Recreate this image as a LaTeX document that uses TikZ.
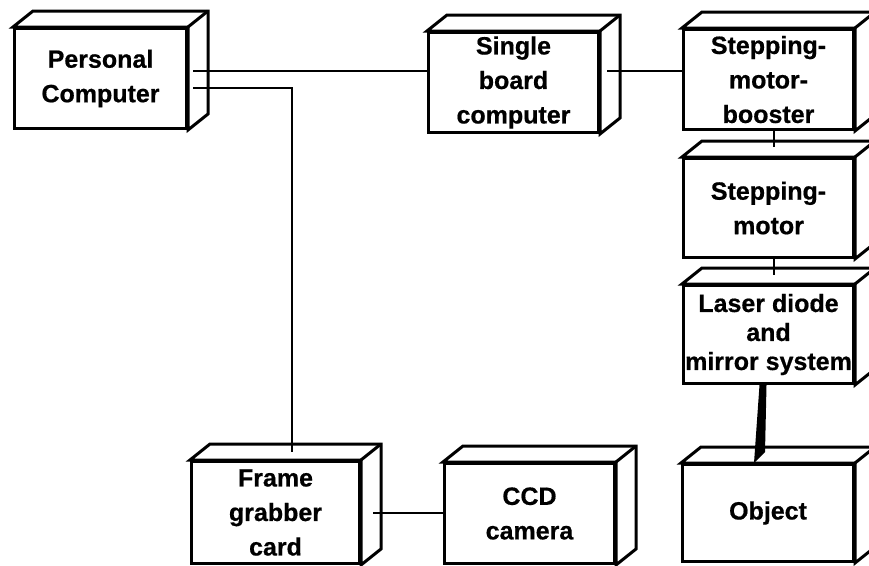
\documentclass[tikz,border=0pt]{standalone}
\usepackage{fontspec}
\newfontfamily\labelfont{Liberation Sans}[FakeBold=0.6]
\usetikzlibrary{calc}

% side and top faces of a box-shaped unit
\newcommand\boxdepth[1]{%
  \draw[unitedge, fill=white]
    (#1.north west) -- ++(20,-16) -| ([shift={(20,-16)}]#1.south east)
    -- (#1.south east) -- (#1.north east) -- cycle;
  \draw[unitedge] (#1.north east) -- ++(20,-16);
}

\begin{document}
\begin{tikzpicture}[x=1pt, y=-1pt,
  unitedge/.style={line width=3pt, line join=miter},
  unit/.style={unitedge, draw, fill=white, inner sep=0pt, anchor=north west,
    align=center, minimum width=170pt, minimum height=100pt,
    font=\labelfont\bfseries\fontsize{25}{34.5}\selectfont},
  link/.style={line width=2.4pt}]

\useasboundingbox[fill=white] (0,0) rectangle (869,565);

% units
\node[unit, minimum width=172pt] (pc) at (13,27) {Personal\\Computer};
\boxdepth{pc}
\node[unit] (sbc) at (427,31) {Single\\board\\computer};
\boxdepth{sbc}
\node[unit] (booster) at (682,28) {Stepping-\\motor-\\booster};
\boxdepth{booster}
\node[unit, minimum height=99pt] (motor) at (682,157) {Stepping-\\motor};
\boxdepth{motor}
\node[unit, minimum height=98pt,
  font=\labelfont\bfseries\fontsize{25}{29}\selectfont] (laser) at (682,284)
  {Laser diode\\and\\mirror system};
\boxdepth{laser}
\node[unit, minimum width=171pt, minimum height=97pt] (object) at (681,463) {Object};
\boxdepth{object}
\node[unit, minimum width=168pt, minimum height=102pt] (frame) at (190,460)
  {Frame\\grabber\\card};
\boxdepth{frame}
\node[unit] (ccd) at (443,462) {CCD\\camera};
\boxdepth{ccd}

% connector ends lying on the side and top faces
\coordinate (pc-a) at (193,71);
\coordinate (pc-b) at (193,88);
\coordinate (frame-in) at (292,452);
\coordinate (sbc-out) at (607,71);
\coordinate (motor-in) at (774,147);
\coordinate (laser-in) at (774,275);
\coordinate (frame-out) at (373,513);

% connectors
\draw[link] (pc-a) -- (sbc.west |- pc-a);
\draw[link] (pc-b) -| (frame-in);
\draw[link] (sbc-out) -- (booster.west |- sbc-out);
\draw[link] (booster.south -| motor-in) -- (motor-in);
\draw[link] (motor.south -| laser-in) -- (laser-in);
\draw[link] (frame-out) -- (ccd.west |- frame-out);

% light beam from the laser onto the object
\fill ($(laser.south)+(-9,0)$) -- ($(laser.south)+(-2,0)$)
  -- ($(object.north)+(-3,-11)$) -- ($(object.north)+(-14,0)$) -- cycle;

\end{tikzpicture}
\end{document}
